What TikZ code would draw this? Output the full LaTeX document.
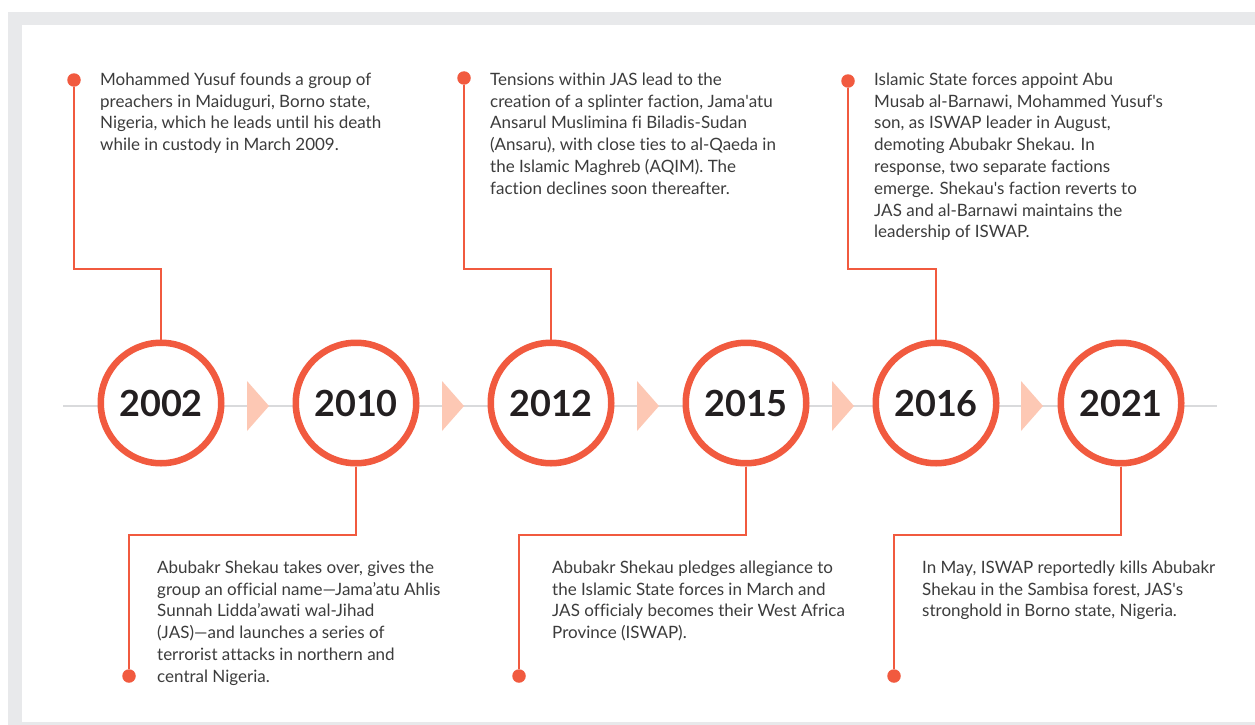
\documentclass[tikz,border=0pt]{standalone}
\usepackage{fontspec}
\setmainfont{Lato}[Ligatures={TeX,NoCommon}]
\definecolor{tlred}{HTML}{F15A3F}
\definecolor{tlpeach}{HTML}{FDC8B4}
\definecolor{tlgray}{HTML}{D9DADC}
\definecolor{framegray}{HTML}{E8E9EB}
\definecolor{notetext}{HTML}{3C3C3C}
\definecolor{yeartext}{HTML}{231F20}

\begin{document}
\begin{tikzpicture}[x=1pt, y=-1pt,
		year/.style={
			circle, draw=tlred, line width=6.5pt, fill=white,
			minimum size=120.5pt, inner sep=0pt, text=yeartext,
			font=\fontsize{36}{40}\selectfont\bfseries
		},
		dot/.style={circle, fill=tlred, minimum size=13.5pt, inner sep=0pt},
		link/.style={draw=tlred, line width=1.6pt},
		note/.style={
			anchor=north west, inner sep=0pt, align=left, text=notetext,
			font=\fontsize{17}{21.8}\selectfont
		}]
		\useasboundingbox (0,0) rectangle (1255,725);
		\fill[framegray] (8,12) rectangle (1255,725);
		\fill[white] (22,25) rectangle (1255,722);

		% timeline
		\draw[tlgray, line width=1.5pt] (63,406) -- (1217,406);
		\foreach \x in {247,442,637,832,1021}
			\fill[tlpeach] (\x,381) -- (\x+22,406) -- (\x,431) -- cycle;

		\node[year] (y2002) at (161,403) {2002};
		\node[year] (y2010) at (356,403) {2010};
		\node[year] (y2012) at (551,403) {2012};
		\node[year] (y2015) at (746,403) {2015};
		\node[year] (y2016) at (936,403) {2016};
		\node[year] (y2021) at (1121,403) {2021};

		% dots
		\node[dot] (d2002) at (74,80) {};
		\node[dot] (d2012) at (464,78) {};
		\node[dot] (d2016) at (848,81) {};
		\node[dot] (d2010) at (129,676) {};
		\node[dot] (d2015) at (519,676) {};
		\node[dot] (d2021) at (894,676) {};

		\coordinate (k2002) at (161,269);
		\coordinate (k2012) at (551,269);
		\coordinate (k2016) at (936,269);
		\coordinate (k2010) at (356,535);
		\coordinate (k2015) at (746,535);
		\coordinate (k2021) at (1121,535);

		\draw[link] (d2002) |- (k2002) -- (y2002);
		\draw[link] (d2012) |- (k2012) -- (y2012);
		\draw[link] (d2016) |- (k2016) -- (y2016);
		\draw[link] (y2010) -- (k2010) -| (d2010);
		\draw[link] (y2015) -- (k2015) -| (d2015);
		\draw[link] (y2021) -- (k2021) -| (d2021);

		% texts
		\node[note] (t2002) at (100,72.5) {Mohammed Yusuf founds a group of\\
			preachers in Maiduguri, Borno state,\\
			Nigeria, which he leads until his death\\
			while in custody in March 2009.};
		\node[note] (t2012) at (490,72.5) {Tensions within JAS lead to the\\
			creation of a splinter faction, Jama\textquotesingle atu\\
			Ansarul Muslimina fi Biladis-Sudan\\
			(Ansaru), with close ties to al-Qaeda in\\
			the Islamic Maghreb (AQIM). The\\
			faction declines soon thereafter.};
		\node[note] (t2016) at (874,72.5) {Islamic State forces appoint Abu\\
			Musab al-Barnawi, Mohammed Yusuf\textquotesingle s\\
			son, as ISWAP leader in August,\\
			demoting Abubakr Shekau. In\\
			response, two separate factions\\
			emerge. Shekau\textquotesingle s faction reverts to\\
			JAS and al-Barnawi maintains the\\
			leadership of ISWAP.};
		\node[note] (t2010) at (157,560.5) {Abubakr Shekau takes over, gives the\\
			group an official name—Jama’atu Ahlis\\
			Sunnah Lidda’awati wal-Jihad\\
			(JAS)—and launches a series of\\
			terrorist attacks in northern and\\
			central Nigeria.};
		\node[note] (t2015) at (552,560.5) {Abubakr Shekau pledges allegiance to\\
			the Islamic State forces in March and\\
			JAS officialy becomes their West Africa\\
			Province (ISWAP).};
		\node[note] (t2021) at (922,560.5) {In May, ISWAP reportedly kills Abubakr\\
			Shekau in the Sambisa forest, JAS\textquotesingle s\\
			stronghold in Borno state, Nigeria.};
	\end{tikzpicture}
\end{document}
